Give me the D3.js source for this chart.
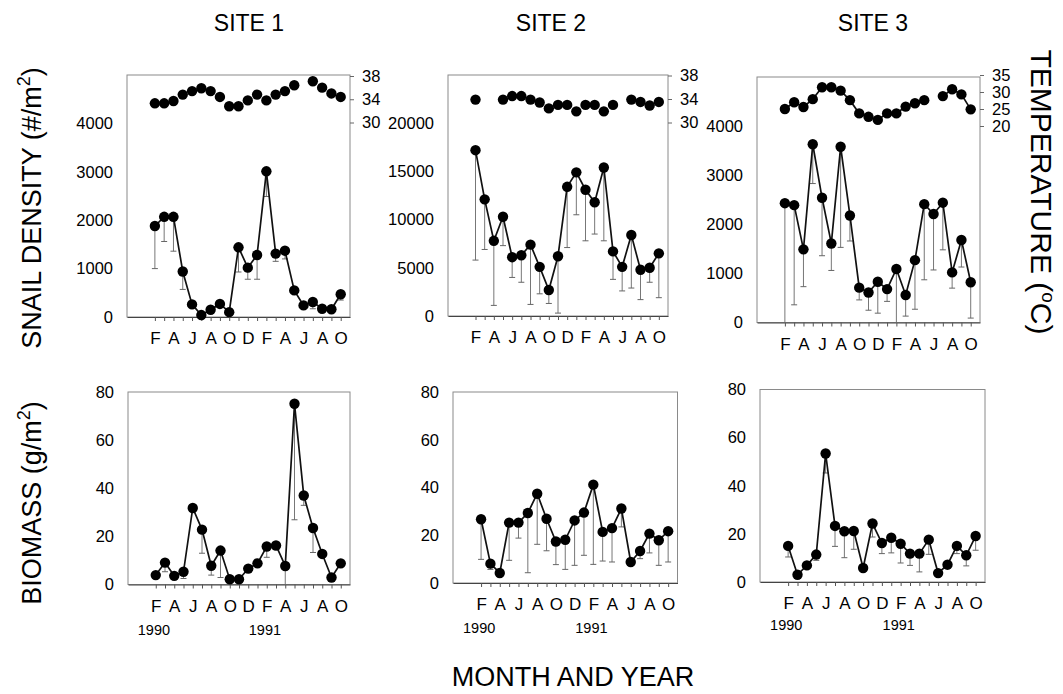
<!DOCTYPE html>
<html>
<head>
<meta charset="utf-8">
<script src="https://cdn.jsdelivr.net/npm/d3@7"></script>
<style>
  body { margin: 0; background: #fff; }
  text { font-family: "Liberation Sans", Arial, sans-serif; fill: #000; }
</style>
</head>
<body>
<div class="canvas"></div>
<script>
/**
 * Data (Feb 1990 .. Oct 1991, one value per month)
 */
const months = ["F","M","A","M","J","J","A","S","O","N","D","J","F","M","A","M","J","J","A","S","O"]
const years = [{ label: "1990", at: -0.2 }, { label: "1991", at: 11.8 }]

const site1Density    = [1880, 2070, 2070, 940, 260, 40, 150, 270, 100, 1440, 1020, 1280, 3010, 1310, 1370, 550, 240, 310, 170, 160, 470]
const site1DensityLow = [1000, 1560, 1360, 570, null, null, null, null, null, 930, 780, 780, 2490, 1150, 1200, null, null, 170, null, null, 350]
const site1Temp       = [33.3, 33.3, 33.7, 34.8, 35.4, 35.9, 35.4, 34.4, 32.8, 32.8, 33.8, 34.8, 33.8, 34.8, 35.4, 36.4, null, 37.1, 36.0, 35.0, 34.4]

const site2Density    = [17200, 12100, 7800, 10300, 6100, 6300, 7400, 5100, 2700, 6200, 13400, 14900, 13100, 11800, 15400, 6700, 5100, 8400, 4800, 5000, 6500]
const site2DensityLow = [5800, 6900, 1100, 7300, 4000, 3500, 1200, 2300, 1300, 300, 7100, 10500, 7800, 8500, 7800, 3800, 2600, 2900, 1700, 3500, 1900]
const site2Temp       = [33.9, null, null, 33.9, 34.5, 34.5, 33.9, 33.4, 32.4, 33.0, 33.0, 31.9, 33.0, 33.0, 31.9, 33.0, null, 33.9, 33.5, 32.9, 33.5]

const site3Density    = [2430, 2390, 1490, 3630, 2540, 1610, 3580, 2180, 710, 610, 830, 680, 1090, 560, 1270, 2410, 2210, 2440, 1020, 1680, 820]
const site3DensityLow = [0, 360, 730, 2830, 1360, 1060, 1530, 1660, 460, 250, 190, 430, 0, 130, 270, 870, 1070, 1480, 700, 1130, 90]
const site3Temp       = [25.0, 27.0, 25.6, 27.9, 31.4, 31.4, 30.4, 27.6, 23.7, 22.7, 21.8, 23.7, 23.7, 25.7, 26.7, 27.6, null, 28.8, 30.8, 29.3, 24.9]

const site1Biomass    = [3.9, 9.1, 3.6, 5.3, 31.8, 22.8, 7.8, 14.1, 2.2, 2.2, 6.6, 8.8, 15.8, 16.2, 7.7, 75.1, 37.0, 23.5, 12.7, 2.9, 8.8]
const site1BiomassLow = [null, 5.3, null, 2.5, null, 13.0, 3.9, 2.9, null, null, null, null, 11.3, null, 0, 26.9, 32.9, 13.3, null, null, null]

const site2Biomass    = [26.7, 8.1, 4.2, 25.3, 25.3, 29.3, 37.4, 26.9, 17.4, 18.1, 26.2, 29.5, 41.2, 21.4, 23.0, 31.2, 8.8, 13.4, 20.7, 17.9, 21.7]
const site2BiomassLow = [9.9, 5.7, null, 9.5, 18.8, 4.3, 16.2, 13.5, 7.7, 5.7, 7.4, 11.6, 7.8, 9.2, 8.8, 23.5, null, 10.2, 12.6, 7.4, 8.8]

const site3Biomass    = [15.0, 3.0, 6.9, 11.4, 53.4, 23.3, 21.1, 21.2, 5.8, 24.3, 16.2, 18.4, 15.9, 11.8, 11.8, 17.6, 3.7, 7.2, 15.0, 11.1, 19.1]
const site3BiomassLow = [10.4, null, null, 9.0, 45.3, 14.8, 10.1, 13.6, null, 18.7, 11.8, 12.1, 7.9, 6.9, 4.2, 11.5, null, null, 11.8, 6.7, 13.2]

/**
 * Svg setup
 */
const dims = { width: 1063, height: 694 }

const svg = d3.select(".canvas")
    .append("svg")
    .attr("width", dims.width)
    .attr("height", dims.height)

svg.append("rect").attr("width", dims.width).attr("height", dims.height).attr("fill", "#fff")

/**
 * Panel layout (pixel boxes) and which series go in them
 */
const panels = [
    { left: 127, right: 350, top: 75, bottom: 317, ymax: 5000, yticks: [0, 1000, 2000, 3000, 4000],
      values: site1Density, low: site1DensityLow,
      temp: site1Temp, tempDomain: [30, 38], tempRange: [122.5, 76], tempTicks: [30, 34, 38], tempLine: false },
    { left: 448, right: 668, top: 75, bottom: 316, ymax: 25000, yticks: [0, 5000, 10000, 15000, 20000],
      values: site2Density, low: site2DensityLow,
      temp: site2Temp, tempDomain: [30, 38], tempRange: [122.5, 75.5], tempTicks: [30, 34, 38], tempLine: false },
    { left: 757, right: 980, top: 77, bottom: 322.5, ymax: 5000, yticks: [0, 1000, 2000, 3000, 4000],
      values: site3Density, low: site3DensityLow,
      temp: site3Temp, tempDomain: [20, 35], tempRange: [126, 75], tempTicks: [20, 25, 30, 35], tempLine: true },
    { left: 128, right: 350, top: 392, bottom: 584.5, ymax: 80, yticks: [0, 20, 40, 60, 80],
      values: site1Biomass, low: site1BiomassLow, yearY: 635 },
    { left: 453, right: 677.5, top: 392, bottom: 583, ymax: 80, yticks: [0, 20, 40, 60, 80],
      values: site2Biomass, low: site2BiomassLow, yearY: 633 },
    { left: 760, right: 985, top: 389.5, bottom: 582, ymax: 80, yticks: [0, 20, 40, 60, 80],
      values: site3Biomass, low: site3BiomassLow, yearY: 630 }
]

const dotR = 5.2

const drawPanel = (p) => {
    const x = d3.scaleLinear().domain([-3, 21]).range([p.left, p.right])
    const y = d3.scaleLinear().domain([0, p.ymax]).range([p.bottom, p.top])
    const g = svg.append("g")

    // frame
    g.append("rect")
        .attr("x", p.left).attr("y", p.top)
        .attr("width", p.right - p.left).attr("height", p.bottom - p.top)
        .attr("fill", "none").attr("stroke", "#8a8a8a").attr("stroke-width", 1)

    // left axis, labels only
    const yAxis = d3.axisLeft(y).tickValues(p.yticks).tickSize(0).tickPadding(14).tickFormat(d3.format("d"))
    g.append("g")
        .attr("transform", `translate(${p.left},0)`)
        .call(yAxis)
        .call(a => a.select(".domain").remove())
        .selectAll("text").attr("font-size", 16.5).attr("font-family", "Liberation Sans").attr("fill", "#000")

    // bottom axis, a tick each month, letter every other month
    const xAxis = d3.axisBottom(x)
        .tickValues(d3.range(months.length))
        .tickSize(4).tickSizeOuter(0).tickPadding(11)
        .tickFormat(i => i % 2 === 0 ? months[i] : "")
    const xg = g.append("g")
        .attr("transform", `translate(0,${p.bottom})`)
        .call(xAxis)
    xg.select(".domain").attr("stroke", "#444").attr("stroke-width", 1.2)
    xg.selectAll(".tick line").attr("stroke", "#555")
    xg.selectAll("text").attr("font-size", 17).attr("font-family", "Liberation Sans").attr("fill", "#000")

    // error bars (drawn below the mean only)
    const idx = d3.range(p.values.length).filter(i => p.low[i] !== null)
    g.append("g").selectAll("line").data(idx).enter().append("line")
        .attr("x1", i => x(i)).attr("x2", i => x(i))
        .attr("y1", i => y(p.values[i])).attr("y2", i => y(p.low[i]))
        .attr("stroke", "#777").attr("stroke-width", 1)
    g.append("g").selectAll("line").data(idx).enter().append("line")
        .attr("x1", i => x(i) - 3).attr("x2", i => x(i) + 3)
        .attr("y1", i => y(p.low[i])).attr("y2", i => y(p.low[i]))
        .attr("stroke", "#666").attr("stroke-width", 1)

    // mean line + dots
    const line = d3.line().x((d, i) => x(i)).y(d => y(d))
    g.append("path").datum(p.values)
        .attr("d", line).attr("fill", "none").attr("stroke", "#111").attr("stroke-width", 1.7)
    g.append("g").selectAll("circle").data(p.values).enter().append("circle")
        .attr("cx", (d, i) => x(i)).attr("cy", d => y(d)).attr("r", dotR).attr("fill", "#000")

    // temperature on the right axis
    if (p.temp) {
        const t = d3.scaleLinear().domain(p.tempDomain).range(p.tempRange)
        const tAxis = d3.axisRight(t).tickValues(p.tempTicks).tickSize(4).tickPadding(8)
        g.append("g")
            .attr("transform", `translate(${p.right},0)`)
            .call(tAxis)
            .call(a => a.select(".domain").remove())
            .call(a => a.selectAll(".tick line").attr("stroke", "#666"))
            .selectAll("text").attr("font-size", 16.5).attr("font-family", "Liberation Sans").attr("fill", "#000")

        if (p.tempLine) {
            const tLine = d3.line().defined(d => d !== null).x((d, i) => x(i)).y(d => t(d))
            g.append("path").datum(p.temp)
                .attr("d", tLine).attr("fill", "none").attr("stroke", "#111").attr("stroke-width", 1.7)
        }
        const tIdx = d3.range(p.temp.length).filter(i => p.temp[i] !== null)
        g.append("g").selectAll("circle").data(tIdx).enter().append("circle")
            .attr("cx", i => x(i)).attr("cy", i => t(p.temp[i])).attr("r", dotR).attr("fill", "#000")
    }

    // year labels
    if (p.yearY) {
        g.append("g").selectAll("text").data(years).enter().append("text")
            .attr("x", d => x(d.at)).attr("y", p.yearY)
            .attr("text-anchor", "middle").attr("font-size", 14.5)
            .text(d => d.label)
    }
}

panels.forEach(drawPanel)

/**
 * Titles
 */
const siteTitles = [{ label: "SITE 1", x: 249 }, { label: "SITE 2", x: 551 }, { label: "SITE 3", x: 873 }]
svg.append("g").selectAll("text").data(siteTitles).enter().append("text")
    .attr("x", d => d.x).attr("y", 31)
    .attr("text-anchor", "middle").attr("font-size", 23)
    .text(d => d.label)

const yTitle = (label, cy) => {
    const txt = svg.append("text")
        .attr("transform", `translate(41,${cy}) rotate(-90)`)
        .attr("text-anchor", "middle").attr("font-size", 27)
    txt.append("tspan").text(label)
    txt.append("tspan").attr("font-size", 18).attr("dy", -11).text("2")
    txt.append("tspan").attr("dy", 11).text(")")
}
yTitle("SNAIL DENSITY (#/m", 208)
yTitle("BIOMASS (g/m", 503)

const tTitle = svg.append("text")
    .attr("transform", "translate(1031,192) rotate(90)")
    .attr("text-anchor", "middle").attr("font-size", 30)
tTitle.append("tspan").text("TEMPERATURE (")
tTitle.append("tspan").attr("font-size", 19).attr("dy", -11).text("o")
tTitle.append("tspan").attr("dy", 11).text("C)")

svg.append("text")
    .attr("x", 573).attr("y", 686)
    .attr("text-anchor", "middle").attr("font-size", 27)
    .text("MONTH AND YEAR")
</script>
</body>
</html>
